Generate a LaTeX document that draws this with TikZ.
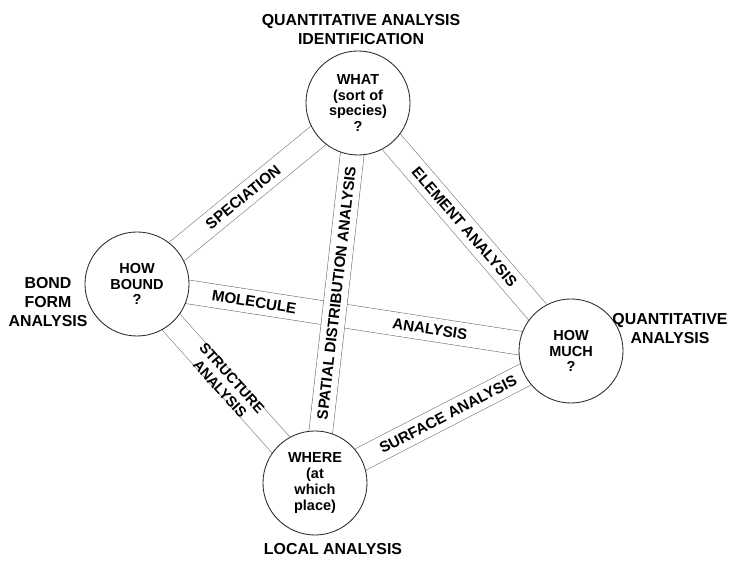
\documentclass[tikz,border=0pt]{standalone}
\usepackage{fontspec}
\setmainfont{Liberation Sans}
\usepackage{xcolor}
\usetikzlibrary{backgrounds}

\tikzset{
  quest/.style={circle, draw=black!85, line width=0.6pt, fill=white, minimum size=2.6cm, inner sep=0pt,
    font=\bfseries\fontsize{10.3}{11.2}\selectfont, align=center},
  band/.style={draw=black!55, line width=0.4pt, double=white, double distance=0.58cm},
  bandtxt/.style={sloped, inner sep=0pt, font=\bfseries\fontsize{10.8}{11.5}\selectfont, align=center},
  outer/.style={font=\bfseries\fontsize{11.3}{13.5}\selectfont, align=center}
}

\begin{document}
\begin{tikzpicture}[x=0.025cm, y=-0.025cm]
\useasboundingbox (0,0) rectangle (739,563);
\node[quest] (what) at (358,103) {WHAT\\(sort of\\species)\\?};
\node[quest] (bound) at (137,284) {HOW\\BOUND\\?};
\node[quest] (much) at (571,351) {HOW\\MUCH\\?};
\node[quest] (where) at (315,483) {WHERE\\(at\\which\\place)};
\node[outer] (idlbl) at (361,30) {QUANTITATIVE ANALYSIS\\IDENTIFICATION};
\node[outer] (bondlbl) at (48,302) {BOND\\FORM\\ANALYSIS};
\node[outer] (quantlbl) at (670,329) {QUANTITATIVE\\ANALYSIS};
\node[outer] (locallbl) at (333,549) {LOCAL ANALYSIS};
\begin{scope}[on background layer]
\draw[band] (bound.center)--(what.center) node[bandtxt, pos=0.48]{SPECIATION};
\draw[band] (what.center)--(much.center) node[bandtxt, pos=0.5]{ELEMENT ANALYSIS};
\draw[band] (bound.center)--(much.center) node[bandtxt, pos=0.27]{MOLECULE}
  node[bandtxt, pos=0.675]{ANALYSIS};
\draw[band] (bound.center)--(where.center) node[bandtxt, pos=0.5, font=\bfseries\fontsize{10.3}{11.5}\selectfont]{STRUCTURE\\ANALYSIS};
\draw[band] (where.center)--(much.center) node[bandtxt, pos=0.52]{SURFACE ANALYSIS};
\draw[band] (where.center)--(what.center) node[bandtxt, pos=0.5]{SPATIAL DISTRIBUTION ANALYSIS};
\end{scope}
\end{tikzpicture}
\end{document}
